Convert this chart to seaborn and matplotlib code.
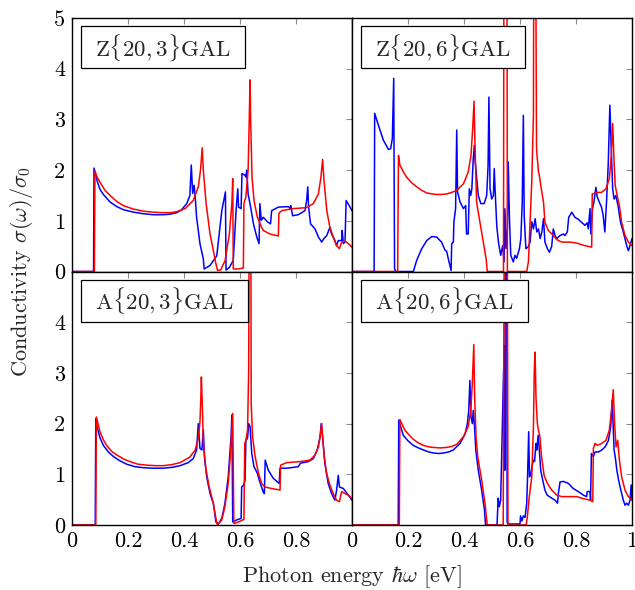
import matplotlib
matplotlib.use("Agg")
import matplotlib.pyplot as plt
from matplotlib.patches import Rectangle
import seaborn as sns
import pandas as pd

# Optical conductivity sigma(omega)/sigma_0 of four graphene antidot lattices.
# Each series is a list of (photon energy [eV], sigma/sigma_0) samples.

z3_blue = [(0, 0), (0.077, 0), (0.0786, 2.04), (0.09, 1.78), (0.100, 1.62), (0.112, 1.52),
           (0.136, 1.37), (0.16, 1.28), (0.183, 1.22), (0.22, 1.17), (0.255, 1.14), (0.29, 1.12),
           (0.326, 1.12), (0.35, 1.13), (0.374, 1.16), (0.39, 1.21), (0.41, 1.34), (0.421, 1.50),
           (0.426, 2.10), (0.431, 1.54), (0.436, 1.70), (0.44, 1.47), (0.445, 1.07), (0.457, 0.55),
           (0.469, 0.25), (0.472, 0.05), (0.493, 0.12), (0.517, 0.31), (0.535, 1.20), (0.548, 1.57),
           (0.550, 0.03), (0.562, 0.08), (0.576, 0.22), (0.586, 1.20), (0.592, 1.63), (0.595, 1.27),
           (0.604, 1.24), (0.607, 1.93), (0.618, 1.90), (0.621, 1.86), (0.624, 2.00), (0.629, 1.53),
           (0.638, 1.27), (0.648, 0.94), (0.660, 0.68), (0.668, 0.55), (0.671, 1.34), (0.676, 1.01),
           (0.683, 1.07), (0.698, 0.98), (0.709, 0.94), (0.713, 1.20), (0.737, 1.27), (0.773, 1.28),
           (0.779, 1.24), (0.781, 1.30), (0.788, 1.10), (0.808, 1.12), (0.832, 1.20), (0.838, 1.40),
           (0.842, 1.67), (0.845, 1.27), (0.852, 0.94), (0.868, 0.84), (0.880, 0.68), (0.892, 0.58),
           (0.898, 0.64), (0.910, 0.71), (0.921, 0.87), (0.927, 0.74), (0.939, 0.61), (0.945, 0.51),
           (0.951, 0.61), (0.963, 0.61), (0.965, 0.81), (0.969, 0.55), (0.975, 0.58), (0.979, 1.40),
           (0.990, 1.30), (1.0, 1.20)]

z3_red = [(0, 0), (0.080, 0), (0.082, 1.98), (0.09, 1.86), (0.100, 1.76), (0.118, 1.60),
          (0.136, 1.50), (0.16, 1.38), (0.183, 1.30), (0.22, 1.23), (0.255, 1.19), (0.29, 1.17),
          (0.326, 1.16), (0.35, 1.16), (0.374, 1.18), (0.404, 1.24), (0.433, 1.40), (0.451, 1.67),
          (0.459, 2.0), (0.465, 2.44), (0.469, 2.0), (0.479, 1.34), (0.493, 0.74), (0.505, 0.41),
          (0.514, 0.15), (0.520, 0.02), (0.531, 0.03), (0.547, 0.22), (0.562, 0.74), (0.571, 1.34),
          (0.574, 1.83), (0.576, 0.05), (0.594, 0.05), (0.612, 0.07), (0.614, 1.34), (0.621, 1.47),
          (0.629, 2.0), (0.633, 2.99), (0.636, 3.78), (0.638, 2.99), (0.643, 1.86), (0.650, 1.40),
          (0.662, 1.07), (0.674, 0.91), (0.683, 0.81), (0.707, 0.74), (0.737, 0.70), (0.739, 1.15),
          (0.749, 1.20), (0.790, 1.24), (0.838, 1.26), (0.862, 1.34), (0.880, 1.53), (0.889, 1.86),
          (0.895, 2.21), (0.900, 1.80), (0.910, 1.20), (0.921, 0.87), (0.933, 0.68), (0.945, 0.51),
          (0.955, 0.45), (0.963, 0.58), (0.975, 0.60), (0.987, 0.55), (1.0, 0.48)]

z6_blue = [(0, 0), (0.079, 0), (0.081, 3.12), (0.094, 2.89), (0.112, 2.59), (0.13, 2.41),
           (0.138, 2.42), (0.144, 2.62), (0.149, 3.81), (0.152, 0.05), (0.156, 0.0), (0.219, 0.0),
           (0.231, 0.22), (0.249, 0.45), (0.267, 0.61), (0.285, 0.69), (0.302, 0.68), (0.32, 0.58),
           (0.332, 0.42), (0.338, 0.40), (0.344, 0.25), (0.354, 0.02), (0.356, 0.55), (0.362, 0.58),
           (0.364, 0.98), (0.37, 1.24), (0.374, 2.79), (0.377, 1.57), (0.386, 1.37), (0.398, 1.24),
           (0.406, 1.30), (0.409, 0.74), (0.415, 0.74), (0.419, 1.63), (0.424, 1.50), (0.428, 1.63),
           (0.433, 2.22), (0.437, 2.49), (0.44, 2.16), (0.451, 1.50), (0.46, 1.34), (0.472, 1.34),
           (0.481, 1.50), (0.486, 2.09), (0.489, 3.44), (0.493, 1.63), (0.499, 1.43), (0.505, 1.50),
           (0.508, 2.03), (0.512, 1.50), (0.517, 0.90), (0.523, 0.58), (0.531, 0.32), (0.538, 0.51),
           (0.543, 0.19), (0.546, 1.24), (0.55, 0.45), (0.555, 0.84), (0.558, 2.16), (0.562, 1.10),
           (0.567, 0.32), (0.576, 0.19), (0.582, 0.32), (0.588, 0.26), (0.598, 0.45), (0.603, 0.65),
           (0.608, 1.37), (0.612, 3.08), (0.615, 1.10), (0.621, 0.45), (0.63, 0.49), (0.636, 0.58),
           (0.642, 0.98), (0.648, 0.84), (0.654, 1.04), (0.660, 0.78), (0.666, 0.84), (0.672, 0.65),
           (0.678, 0.78), (0.684, 1.04), (0.689, 0.58), (0.698, 0.45), (0.705, 0.38), (0.713, 0.49),
           (0.719, 0.84), (0.725, 0.71), (0.731, 0.65), (0.743, 0.71), (0.755, 0.74), (0.761, 0.71),
           (0.769, 0.78), (0.774, 1.07), (0.785, 1.17), (0.796, 1.07), (0.808, 1.03), (0.820, 0.97),
           (0.832, 0.91), (0.840, 0.96), (0.844, 0.84), (0.850, 1.24), (0.853, 0.74), (0.859, 1.24),
           (0.864, 1.37), (0.871, 1.66), (0.876, 1.47), (0.883, 1.37), (0.891, 1.27), (0.897, 1.11),
           (0.903, 0.78), (0.909, 1.37), (0.915, 2.10), (0.921, 3.28), (0.926, 2.42), (0.931, 1.63),
           (0.936, 1.43), (0.942, 1.50), (0.950, 1.30), (0.959, 0.97), (0.969, 0.78), (0.981, 0.51),
           (0.987, 0.41), (0.993, 0.51), (1.0, 0.65)]

z6_red = [(0, 0), (0.163, 0), (0.166, 2.29), (0.171, 2.10), (0.183, 1.97), (0.195, 1.86),
          (0.213, 1.75), (0.231, 1.67), (0.249, 1.60), (0.267, 1.55), (0.285, 1.53), (0.302, 1.52),
          (0.320, 1.52), (0.338, 1.53), (0.356, 1.56), (0.374, 1.60), (0.398, 1.73), (0.415, 1.96),
          (0.425, 2.29), (0.431, 2.82), (0.436, 3.36), (0.439, 2.55), (0.445, 1.37), (0.457, 0.97),
          (0.469, 0.58), (0.479, 0.25), (0.483, 0.0), (0.541, 0.0), (0.543, 8.0), (0.553, 8.0),
          (0.555, 0.0), (0.624, 0.0), (0.630, 0.19), (0.642, 1.77), (0.648, 3.08), (0.650, 8.0),
          (0.655, 8.0), (0.659, 2.42), (0.666, 1.96), (0.669, 1.90), (0.674, 1.70), (0.684, 1.37),
          (0.689, 0.97), (0.701, 0.81), (0.719, 0.71), (0.731, 0.63), (0.749, 0.58), (0.779, 0.58),
          (0.803, 0.56), (0.832, 0.51), (0.856, 0.48), (0.858, 1.53), (0.874, 1.56), (0.891, 1.56),
          (0.907, 1.63), (0.919, 1.83), (0.926, 2.29), (0.931, 2.92), (0.936, 2.16), (0.940, 1.70),
          (0.948, 1.47), (0.955, 1.30), (0.963, 0.97), (0.975, 0.71), (0.987, 0.58), (1.0, 0.51)]

a3_blue = [(0, 0), (0.083, 0), (0.085, 2.10), (0.088, 1.97), (0.100, 1.72), (0.112, 1.57),
           (0.13, 1.44), (0.148, 1.35), (0.17, 1.27), (0.195, 1.20), (0.225, 1.15), (0.255, 1.13),
           (0.29, 1.12), (0.326, 1.12), (0.36, 1.14), (0.386, 1.17), (0.415, 1.23), (0.433, 1.31),
           (0.445, 1.48), (0.451, 2.0), (0.457, 1.51), (0.464, 1.48), (0.469, 1.88), (0.473, 1.34),
           (0.481, 0.95), (0.493, 0.62), (0.505, 0.42), (0.514, 0.06), (0.523, 0.02), (0.535, 0.13),
           (0.546, 0.42), (0.558, 0.95), (0.568, 1.74), (0.571, 2.17), (0.574, 0.06), (0.588, 0.10),
           (0.604, 0.13), (0.606, 0.75), (0.612, 0.78), (0.618, 0.88), (0.621, 1.67), (0.627, 1.71),
           (0.631, 2.0), (0.636, 1.94), (0.642, 1.41), (0.650, 1.15), (0.662, 1.02), (0.669, 0.88),
           (0.677, 0.75), (0.683, 0.65), (0.687, 0.62), (0.690, 1.28), (0.701, 1.08), (0.719, 0.92),
           (0.740, 0.82), (0.743, 1.12), (0.767, 1.12), (0.808, 1.15), (0.816, 1.22), (0.844, 1.25),
           (0.862, 1.31), (0.876, 1.48), (0.886, 1.74), (0.890, 2.0), (0.895, 1.74), (0.903, 1.22),
           (0.915, 0.82), (0.927, 0.62), (0.939, 0.49), (0.945, 0.69), (0.951, 0.98), (0.955, 0.75),
           (0.969, 0.72), (0.987, 0.59), (1.0, 0.49)]

a3_red = [(0, 0), (0.085, 0), (0.087, 2.13), (0.100, 1.84), (0.112, 1.68), (0.124, 1.57),
          (0.140, 1.46), (0.160, 1.38), (0.185, 1.30), (0.207, 1.25), (0.235, 1.20), (0.267, 1.18),
          (0.3, 1.17), (0.326, 1.17), (0.356, 1.19), (0.386, 1.23), (0.421, 1.34), (0.440, 1.48),
          (0.451, 1.71), (0.457, 2.03), (0.460, 2.49), (0.462, 2.92), (0.466, 2.26), (0.469, 1.61),
          (0.479, 1.08), (0.490, 0.75), (0.505, 0.42), (0.514, 0.13), (0.519, 0.0), (0.535, 0.10),
          (0.546, 0.36), (0.558, 0.82), (0.567, 1.48), (0.574, 2.20), (0.578, 0.03), (0.594, 0.06),
          (0.614, 0.11), (0.617, 1.61), (0.621, 1.67), (0.627, 1.87), (0.631, 3.05), (0.634, 8.0),
          (0.638, 8.0), (0.640, 2.39), (0.645, 1.74), (0.654, 1.35), (0.666, 1.02), (0.677, 0.82),
          (0.689, 0.75), (0.713, 0.72), (0.743, 0.69), (0.745, 1.18), (0.767, 1.23), (0.814, 1.25),
          (0.850, 1.28), (0.868, 1.38), (0.880, 1.54), (0.886, 1.74), (0.892, 2.0), (0.895, 1.74),
          (0.901, 1.35), (0.909, 1.02), (0.921, 0.79), (0.933, 0.62), (0.945, 0.49), (0.955, 0.46),
          (0.963, 0.66), (0.975, 0.62), (0.987, 0.59), (1.0, 0.52)]

a6_blue = [(0, 0), (0.165, 0), (0.167, 2.07), (0.183, 1.77), (0.200, 1.66), (0.219, 1.57),
           (0.237, 1.52), (0.255, 1.48), (0.275, 1.44), (0.291, 1.42), (0.310, 1.41), (0.326, 1.42),
           (0.345, 1.44), (0.362, 1.48), (0.386, 1.61), (0.404, 1.80), (0.412, 2.0), (0.417, 2.26),
           (0.421, 2.85), (0.425, 2.13), (0.430, 2.0), (0.433, 2.26), (0.437, 2.0), (0.442, 1.48),
           (0.451, 1.08), (0.463, 0.69), (0.473, 0.30), (0.477, 0.0), (0.518, 0.0), (0.522, 0.53),
           (0.526, 0.36), (0.531, 0.49), (0.536, 1.74), (0.540, 2.72), (0.544, 3.54), (0.546, 1.08),
           (0.548, 8.0), (0.552, 8.0), (0.554, 0.05), (0.558, 0.02), (0.600, 0.02), (0.602, 0.18),
           (0.607, 0.08), (0.612, 0.18), (0.618, 0.15), (0.624, 0.43), (0.627, 0.95), (0.631, 1.84),
           (0.634, 0.95), (0.639, 1.02), (0.645, 1.21), (0.648, 1.28), (0.652, 1.25), (0.657, 1.61),
           (0.660, 1.48), (0.665, 1.77), (0.669, 1.48), (0.674, 1.08), (0.681, 0.89), (0.689, 0.69),
           (0.697, 0.59), (0.713, 0.53), (0.725, 0.49), (0.734, 0.43), (0.737, 0.62), (0.743, 0.85),
           (0.755, 0.86), (0.773, 0.82), (0.790, 0.72), (0.808, 0.66), (0.826, 0.59), (0.838, 0.56),
           (0.840, 0.66), (0.850, 0.66), (0.852, 0.49), (0.855, 1.41), (0.862, 1.35), (0.868, 1.44),
           (0.880, 1.44), (0.892, 1.48), (0.904, 1.54), (0.916, 1.67), (0.924, 1.94), (0.929, 2.46),
           (0.932, 2.07), (0.936, 1.48), (0.940, 1.35), (0.946, 1.08), (0.952, 0.89), (0.960, 0.69),
           (0.969, 0.49), (0.975, 0.39), (0.981, 0.43), (0.987, 0.39), (0.993, 0.49), (0.997, 0.79),
           (1.0, 0.49)]

a6_red = [(0, 0), (0.169, 0), (0.171, 2.08), (0.189, 1.87), (0.205, 1.77), (0.219, 1.69),
          (0.237, 1.62), (0.255, 1.57), (0.275, 1.54), (0.291, 1.53), (0.315, 1.52), (0.338, 1.53),
          (0.356, 1.55), (0.374, 1.59), (0.398, 1.74), (0.415, 1.94), (0.424, 2.26), (0.429, 2.72),
          (0.435, 3.56), (0.438, 2.52), (0.443, 1.74), (0.449, 1.35), (0.463, 0.89), (0.475, 0.43),
          (0.483, 0.0), (0.540, 0.0), (0.545, 8.0), (0.554, 8.0), (0.557, 0.0), (0.622, 0.0),
          (0.626, 0.15), (0.633, 0.55), (0.642, 0.95), (0.648, 1.94), (0.651, 3.05), (0.654, 3.41),
          (0.657, 2.52), (0.662, 2.0), (0.665, 1.90), (0.671, 1.74), (0.677, 1.35), (0.686, 0.98),
          (0.698, 0.82), (0.713, 0.69), (0.731, 0.59), (0.749, 0.56), (0.779, 0.56), (0.803, 0.56),
          (0.826, 0.52), (0.850, 0.49), (0.860, 0.46), (0.862, 1.51), (0.868, 1.61), (0.876, 1.57),
          (0.892, 1.61), (0.907, 1.67), (0.919, 1.87), (0.927, 2.26), (0.933, 2.67), (0.938, 2.0),
          (0.943, 1.54), (0.949, 1.67), (0.955, 1.28), (0.963, 0.95), (0.975, 0.69), (0.987, 0.56),
          (1.0, 0.49)]

panel_titles = [r"Z$\{20,3\}$GAL", r"Z$\{20,6\}$GAL", r"A$\{20,3\}$GAL", r"A$\{20,6\}$GAL"]
panel_series = [(z3_blue, z3_red), (z6_blue, z6_red), (a3_blue, a3_red), (a6_blue, a6_red)]
x_ticks = [0, 0.2, 0.4, 0.6, 0.8, 1.0]
x_tick_labels = ["0", "0.2", "0.4", "0.6", "0.8", "1"]
y_ticks = [0, 1, 2, 3, 4, 5]
y_tick_labels = ["0", "1", "2", "3", "4", "5"]

sns.set_theme(style="white")
plt.rcParams["font.family"] = ["cmr10", "DejaVu Serif"]
plt.rcParams["mathtext.fontset"] = "cm"
plt.rcParams["axes.formatter.use_mathtext"] = True
plt.rcParams["axes.unicode_minus"] = False

FS = 16
W_PX, H_PX = 635, 590
AX_W, AX_H = 280, 253  # panel size in pixels
fig, axes = plt.subplots(2, 2, figsize=(W_PX / 100, H_PX / 100), dpi=100)
fig.subplots_adjust(left=72 / W_PX, right=632 / W_PX, top=1 - 18 / H_PX, bottom=1 - 525 / H_PX,
                    wspace=0, hspace=0)

palette = {"blue": "#0000ff", "red": "#ff0000"}
titles = []

for i, ax in enumerate(axes.flat):
    blue, red = panel_series[i]
    frames = []
    for name, pts in (("blue", blue), ("red", red)):
        d = pd.DataFrame(pts, columns=["energy", "sigma"])
        d["spin"] = name
        frames.append(d)
    df = pd.concat(frames, ignore_index=True)
    sns.lineplot(data=df, x="energy", y="sigma", hue="spin", palette=palette,
                 estimator=None, sort=False, legend=False, linewidth=1.1, ax=ax)
    ax.set_xlim(0, 1)
    ax.set_ylim(0, 5)
    ax.set_xlabel("")
    ax.set_ylabel("")
    ax.set_xticks(x_ticks)
    ax.set_yticks(y_ticks)
    row, col = divmod(i, 2)
    if row == 1:
        labels = list(x_tick_labels)
        if col == 0:
            labels[-1] = ""
        ax.set_xticklabels(labels)
    else:
        ax.set_xticklabels([])
    if col == 0:
        labels = list(y_tick_labels)
        if row == 1:
            labels[-1] = ""
        ax.set_yticklabels(labels)
    else:
        ax.set_yticklabels([])
    ax.tick_params(axis="both", which="both", direction="in", top=True, right=True,
                   length=4, width=0.8, color="0.55", labelsize=FS, pad=5,
                   labelcolor="black")
    for sp in ax.spines.values():
        sp.set_color("black")
        sp.set_linewidth(1.0)
    # panel name in the upper-left corner; its frame is added once the text is measured
    t = ax.text(23 / AX_W, 1 - 29 / AX_H, panel_titles[i], transform=ax.transAxes,
                ha="left", va="center", fontsize=16.5, zorder=10)
    titles.append((ax, t))

fig.canvas.draw()
renderer = fig.canvas.get_renderer()
for ax, t in titles:
    ext = t.get_window_extent(renderer)
    box_w = (ext.width + 28) / ax.bbox.width
    ax.add_patch(Rectangle((9 / AX_W, 1 - 50 / AX_H), box_w, 42 / AX_H, transform=ax.transAxes,
                           facecolor="white", edgecolor="black", linewidth=0.9, zorder=9,
                           clip_on=False))

fig.text(22 / W_PX, 1 - 271 / H_PX, r"Conductivity $\sigma(\omega)/\sigma_0$", rotation=90,
         ha="center", va="center", fontsize=FS)
fig.text(352 / W_PX, 1 - 577 / H_PX, r"Photon energy $\hbar\omega$ [eV]", ha="center",
         va="center", fontsize=FS)

fig.savefig("out.png", dpi=100)
